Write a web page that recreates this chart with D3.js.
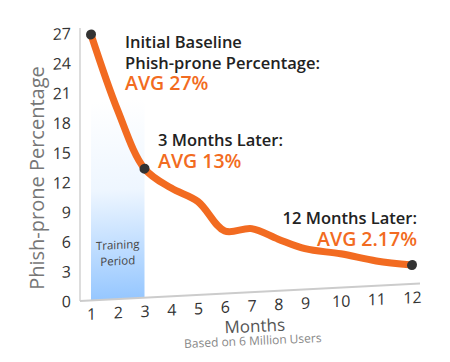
<!DOCTYPE html>
<meta charset="utf-8">
<head>
    <title></title>
    <script src="https://cdn.jsdelivr.net/npm/d3@7"></script>
</head>
<style>
    body{ margin:0; background:#fff; }
    text{ font-family: "Open Sans", sans-serif; }
</style>
<svg width="450" height="362"></svg>
<script>
    // data
    var months = [1,2,3,4,5,6,7,8,9,10,11,12],
        pct = [26.8,19.0,13.0,10.9,9.4,6.3,6.4,5.2,4.1,3.4,2.5,1.9],
        yTicks = [0,3,6,9,12,15,18,21,24,27],
        marked = [1,3,12];

    var orange = '#f26b21',
        svg = d3.select('svg');

    var x = d3.scaleLinear().domain([1,9,12]).range([11,225,332]),
        y = d3.scaleLinear().domain([0,27]).range([301,33]);

    // gradient for the training period
    var grad = svg.append('defs').append('linearGradient')
        .attr('id','train').attr('x1',0).attr('y1',0).attr('x2',0).attr('y2',1);
    grad.append('stop').attr('offset','0%').attr('stop-color','#ffffff');
    grad.append('stop').attr('offset','45%').attr('stop-color','#eef6ff');
    grad.append('stop').attr('offset','100%').attr('stop-color','#96c7ff');

    // chart sits in a slightly skewed plane
    var g = svg.append('g').attr('transform','translate(80,0) skewY(-2.95)');

    g.append('rect')
        .attr('x', x(1)).attr('width', x(3)-x(1))
        .attr('y', y(20)).attr('height', y(0)-y(20))
        .style('fill','url(#train)');

    g.append('text').attr('x',(x(1)+x(3))/2).attr('y',251)
        .attr('text-anchor','middle').style('font-size','11.5px').style('fill','#444')
        .text('Training');
    g.append('text').attr('x',(x(1)+x(3))/2).attr('y',267)
        .attr('text-anchor','middle').style('font-size','11.5px').style('fill','#444')
        .text('Period');

    // axis lines
    g.append('line').attr('x1',0).attr('x2',0).attr('y1',28).attr('y2',y(0))
        .style('stroke','#ddd').style('stroke-width',2);
    g.append('line').attr('x1',0).attr('x2',340).attr('y1',y(0)).attr('y2',y(0))
        .style('stroke','#ccc').style('stroke-width',2);

    var ya = g.append('g').call(d3.axisLeft(y).tickValues(yTicks).tickSize(0).tickPadding(9));
    ya.select('.domain').remove();
    ya.selectAll('text').style('font-size','16px').style('fill','#333').style('font-family','"Open Sans", sans-serif');

    var xa = g.append('g').attr('transform','translate(0,'+y(0)+')')
        .call(d3.axisBottom(x).tickValues(months).tickFormat(d3.format('d')).tickSize(0).tickPadding(8));
    xa.select('.domain').remove();
    xa.selectAll('text').style('font-size','16px').style('fill','#333').style('font-family','"Open Sans", sans-serif');

    var line = d3.line()
        .x(function(d,i){ return x(months[i]); })
        .y(function(d){ return y(d); })
        .curve(d3.curveCatmullRom.alpha(0.5));

    g.append('path').datum(pct).attr('d', line)
        .style('fill','none').style('stroke',orange).style('stroke-width',7)
        .style('stroke-linecap','round');

    g.selectAll('circle').data(marked).enter().append('circle')
        .attr('cx', function(d){ return x(d); })
        .attr('cy', function(d){ return y(pct[d-1]); })
        .attr('r',5).style('fill','#333');

    // axis titles
    svg.append('text').attr('transform','translate(44,178) rotate(-90)')
        .attr('text-anchor','middle').style('font-size','20px').style('fill','#777')
        .text('Phish-prone Percentage');
    svg.append('text').attr('transform','translate(255,332) rotate(-2.5)')
        .attr('text-anchor','middle').style('font-size','17px').style('fill','#555')
        .text('Months');
    svg.append('text').attr('transform','translate(253,345) rotate(-2.5)')
        .attr('text-anchor','middle').style('font-size','12px').style('fill','#888')
        .text('Based on 6 Million Users');

    // annotations
    function note(tx, ty, str, size, col, anchor){
        svg.append('text').attr('x',tx).attr('y',ty).attr('text-anchor',anchor||'start')
            .style('font-size',size+'px').style('font-weight',600).style('fill',col).text(str);
    }
    note(125,48,'Initial Baseline',16.5,'#222');
    note(125,69,'Phish-prone Percentage:',16.5,'#222');
    note(125,90,'AVG 27%',19.5,orange);
    note(158,146,'3 Months Later:',16.5,'#222');
    note(158,168,'AVG 13%',19.5,orange);
    note(417,224,'12 Months Later:',16.5,'#222','end');
    note(417,246,'AVG 2.17%',19.5,orange,'end');
</script>
